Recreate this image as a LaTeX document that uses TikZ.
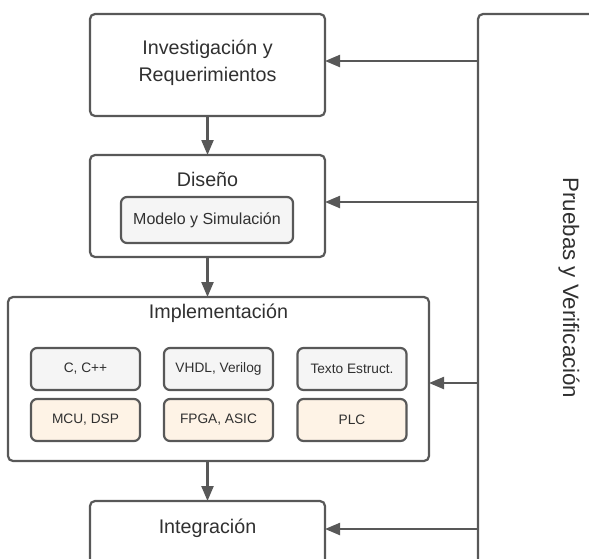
\documentclass[tikz,border=0pt]{standalone}
\usepackage{fontspec}
\setmainfont{Liberation Sans}
\usetikzlibrary{arrows.meta}
\definecolor{edge}{HTML}{585858}
\definecolor{ink}{HTML}{303030}
\definecolor{softgray}{HTML}{F5F5F5}
\definecolor{softorange}{HTML}{FEF3E6}
\tikzset{
  stage/.style={draw=edge, line width=2.2pt, rounded corners=5pt, fill=white,
    inner sep=0pt, outer sep=0pt},
  sub/.style={draw=edge, line width=2.2pt, rounded corners=6pt, inner sep=0pt,
    outer sep=0pt, minimum width=109pt, minimum height=42pt, text=ink,
    font=\fontsize{13.7}{16}\selectfont},
  lang/.style={sub, fill=softgray},
  chip/.style={sub, fill=softorange},
  title/.style={text=ink, font=\fontsize{19.7}{27}\selectfont, align=center,
    inner sep=0pt},
  flow/.style={draw=edge, line width=2.2pt, -{Triangle[length=15pt,width=12pt]}},
}
\begin{document}
\begin{tikzpicture}[x=1pt,y=-1pt]
  \clip (0,0) rectangle (589,558);
  \fill[white] (0,0) rectangle (589,558);

  % testing column on the right
  \node[stage, minimum width=162pt, minimum height=606pt] (ver) at (559,317) {};
  \node[title, rotate=-90, font=\fontsize{22.3}{27}\selectfont] (vertxt)
    at (569,288) {Pruebas y Verificación};

  % stages of the flow
  \node[stage, minimum width=235pt, minimum height=102pt] (inv) at (207.5,65) {};
  \node[title] (invtxt) at (207.5,62.5) {Investigación y\\Requerimientos};

  \node[stage, minimum width=235pt, minimum height=102pt] (dis) at (207.5,206) {};
  \node[title] (distxt) at (207.5,179) {Diseño};
  \node[lang, minimum width=172pt, minimum height=46pt,
        font=\fontsize{16}{18}\selectfont] (mod) at (207,220) {Modelo y Simulación};

  \node[stage, minimum width=421pt, minimum height=164pt] (imp) at (218.5,379) {};
  \node[title] (imptxt) at (218.5,313) {Implementación};
  \node[lang] (c)    at (85.5,369) {C, C++};
  \node[lang] (vhdl) at (218.5,369) {VHDL, Verilog};
  \node[lang] (st)   at (352,369) {Texto Estruct.};
  \node[chip] (mcu)  at (85.5,420) {MCU, DSP};
  \node[chip] (fpga) at (218.5,420) {FPGA, ASIC};
  \node[chip] (plc)  at (352,420) {PLC};

  \node[stage, minimum width=235pt, minimum height=102pt] (int) at (207.5,552) {};
  \node[title] (inttxt) at (207.5,528) {Integración};

  % forward flow
  \draw[flow] (inv.south) -- (dis.north);
  \draw[flow] (dis.south) -- (dis.south |- imp.north);
  \draw[flow] (int.north |- imp.south) -- (int.north);

  % feedback from testing
  \coordinate (f1) at (0,61);
  \coordinate (f2) at (0,202);
  \coordinate (f3) at (0,383);
  \coordinate (f4) at (0,529);
  \draw[flow] (ver.west |- f1) -- (inv.east |- f1);
  \draw[flow] (ver.west |- f2) -- (dis.east |- f2);
  \draw[flow] (ver.west |- f3) -- (imp.east |- f3);
  \draw[flow] (ver.west |- f4) -- (int.east |- f4);
\end{tikzpicture}
\end{document}
